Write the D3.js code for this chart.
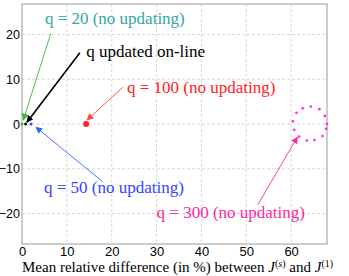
<!DOCTYPE html>
<html>
<head>
<meta charset="utf-8">
<style>
  body { margin: 0; background: #fff; }
</style>
</head>
<body>
<script src="https://cdn.jsdelivr.net/npm/d3@7"></script>
<script>

// single runs (x = mean relative difference %, y = 0 axis)
var runNames = ["q20", "online", "q50", "q100"];
var runX = [0, 0.8, 2.0, 14.3];
var runY = [0, 0, 0, 0];
var runColor = ["#22cc22", "#000000", "#3344ff", "#ff2222"];

// q = 300 scattered points
var q300X = [62.6, 64.4, 66.3, 67.5, 68.0, 67.8, 67.0, 65.2, 63.5, 61.8, 60.7, 60.4, 61.2];
var q300Y = [3.5, 3.9, 3.3, 1.8, 0, -1.1, -2.7, -3.6, -3.7, -2.8, -1.3, 0.6, 2.5];

// annotations
var annText = ["q = 20 (no updating)", "q updated on-line", "q = 100 (no updating)", "q = 50 (no updating)", "q = 300 (no updating)"];
var annTextX = [5.1, 14.3, 23.4, 4.9, 30.0];
var annTextY = [22.3, 14.9, 6.9, -15.4, -20.9];
var annFromX = [6.4, 12.9, 22.5, 18.0, 52.6];
var annFromY = [20.2, 15.9, 8.2, -12.9, -18.0];
var annToX = [0.3, 1.1, 14.5, 3.1, 61.4];
var annToY = [0.9, 0.4, 0.9, -0.7, -2.9];
var annTextColor = ["#33a6a6", "#000000", "#ff2222", "#3344ff", "#ff2a9a"];
var annLineColor = ["#33bb33", "#000000", "#ff4433", "#3366ff", "#ff2a9a"];

var xTicks = [0, 10, 20, 30, 40, 50, 60];
var yTicks = [-20, -10, 0, 10, 20];

var serif = "'Liberation Serif', 'DejaVu Serif', serif";
var sans = "'Liberation Sans', 'DejaVu Sans', sans-serif";

var margin = {top: 4, right: 22, bottom: 32, left: 22},
    width = 349 - margin.left - margin.right,
    height = 276 - margin.top - margin.bottom;

var svg = d3.select("body").append("svg")
    .attr("width", 349)
    .attr("height", 276),
    g = svg.append("g").attr("transform", "translate(" + margin.left + "," + margin.top + ")");

var x = d3.scaleLinear().domain([0, 68]).range([0, width]);
var y = d3.scaleLinear().domain([-26.8, 26.8]).range([height, 0]);

// grid
g.append("g").selectAll("line").data(xTicks.slice(1)).enter().append("line")
    .attr("x1", function(d) { return x(d); }).attr("x2", function(d) { return x(d); })
    .attr("y1", 0).attr("y2", height)
    .attr("stroke", "#d8d8d8").attr("stroke-dasharray", "3,2");
g.append("g").selectAll("line").data(yTicks).enter().append("line")
    .attr("y1", function(d) { return y(d); }).attr("y2", function(d) { return y(d); })
    .attr("x1", 0).attr("x2", width)
    .attr("stroke", "#d8d8d8").attr("stroke-dasharray", "3,2");

// axes
var xAxis = g.append("g")
    .attr("transform", "translate(0," + height + ")")
    .call(d3.axisBottom(x).tickValues(xTicks).tickSize(0).tickPadding(3));
var yAxis = g.append("g")
    .call(d3.axisLeft(y).tickValues(yTicks).tickSize(0).tickPadding(2));
xAxis.select(".domain").remove();
yAxis.select(".domain").remove();
xAxis.selectAll(".tick text")
    .style("font-family", sans).style("font-size", "13px").attr("fill", "#000");
yAxis.selectAll(".tick text")
    .style("font-family", sans).style("font-size", "12.5px").attr("fill", "#000");

g.append("rect")
    .attr("width", width).attr("height", height)
    .attr("fill", "none").attr("stroke", "#9a9a9a").attr("stroke-width", 1);

// arrow markers
var defs = svg.append("defs");
annLineColor.forEach(function(c, i) {
  defs.append("marker")
    .attr("id", "arr" + i)
    .attr("viewBox", "0 0 10 10")
    .attr("refX", 9).attr("refY", 5)
    .attr("markerWidth", 7).attr("markerHeight", 7)
    .attr("markerUnits", "userSpaceOnUse")
    .attr("orient", "auto")
    .append("path").attr("d", "M0,0L10,5L0,10z").attr("fill", c);
});

g.append("g").selectAll("line").data(annText).enter().append("line")
    .attr("x1", function(d, i) { return x(annFromX[i]); })
    .attr("y1", function(d, i) { return y(annFromY[i]); })
    .attr("x2", function(d, i) { return x(annToX[i]); })
    .attr("y2", function(d, i) { return y(annToY[i]); })
    .attr("stroke", function(d, i) { return annLineColor[i]; })
    .attr("stroke-width", function(d, i) { return i == 1 ? 1.6 : 0.9; })
    .attr("marker-end", function(d, i) { return "url(#arr" + i + ")"; });

// points
g.append("g").selectAll("circle").data(runNames).enter().append("circle")
    .attr("cx", function(d, i) { return x(runX[i]); })
    .attr("cy", function(d, i) { return y(runY[i]); })
    .attr("r", function(d, i) { return d == "q100" ? 3 : 1.5; })
    .attr("fill", function(d, i) { return runColor[i]; });

g.append("g").selectAll("circle").data(q300X).enter().append("circle")
    .attr("cx", function(d) { return x(d); })
    .attr("cy", function(d, i) { return y(q300Y[i]); })
    .attr("r", 1.4)
    .attr("fill", "#ff33ee");

// labels
g.append("g").selectAll("text").data(annText).enter().append("text")
    .attr("x", function(d, i) { return x(annTextX[i]); })
    .attr("y", function(d, i) { return y(annTextY[i]); })
    .attr("fill", function(d, i) { return annTextColor[i]; })
    .style("font-family", serif).style("font-size", "17px")
    .text(function(d) { return d; });

// x label
var xl = svg.append("text")
    .attr("x", 22).attr("y", 272)
    .style("font-family", serif).style("font-size", "15px")
    .attr("fill", "#000");
xl.append("tspan").text("Mean relative difference (in %) between ");
xl.append("tspan").attr("font-style", "italic").text("J");
xl.append("tspan").attr("dy", -5).style("font-size", "10px").text("(");
xl.append("tspan").style("font-size", "10px").attr("font-style", "italic").text("s");
xl.append("tspan").style("font-size", "10px").text(")");
xl.append("tspan").attr("dy", 5).text(" and ");
xl.append("tspan").attr("font-style", "italic").text("J");
xl.append("tspan").attr("dy", -5).style("font-size", "10px").text("(1)");

</script>
</body>
</html>
